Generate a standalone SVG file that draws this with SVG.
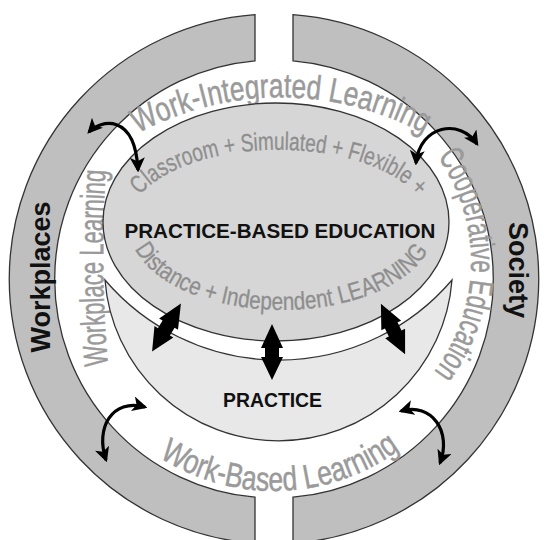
<svg xmlns="http://www.w3.org/2000/svg" width="544" height="540" viewBox="0 0 544 540">
  <defs>
    <style>
      .band { fill: #bfbfbf; stroke: #333; stroke-width: 1.3; }
      .pbe { fill: #d6d6d6; stroke: #333; stroke-width: 1.3; }
      .prac { fill: #e8e8e8; stroke: #333; stroke-width: 1.3; }
      .ring { font-family: "Liberation Sans Narrow", "Liberation Sans", Arial, sans-serif; fill: #9a9a9a; stroke: #9a9a9a; stroke-width: 0.5; font-size: 34px; }
      .inner { font-family: "Liberation Sans Narrow", "Liberation Sans", Arial, sans-serif; fill: #8e8e8e; stroke: #8e8e8e; stroke-width: 0.3; font-size: 25px; }
      .title { font-family: "Liberation Sans", Arial, sans-serif; font-weight: bold; fill: #111; }
      .curve { fill: none; stroke: #000; stroke-width: 3.2; marker-start: url(#head); marker-end: url(#head); }
      .dbl { fill: #000; }
    </style>
    <marker id="head" viewBox="0 0 12 12" refX="10" refY="6" markerWidth="15" markerHeight="15" markerUnits="userSpaceOnUse" orient="auto-start-reverse">
      <path d="M0,0 L12,6 L0,12 L3,6 Z" fill="#000"/>
    </marker>
    <path id="dblArrow" d="M0,-28 L11,-4 L7,-4 L7,5 L11,5 L0,28 L-11,5 L-7,5 L-7,-4 L-11,-4 Z"/>
    <path id="p-top" d="M138,133.5 A300,300 0 0 1 428,136"/>
    <path id="p-right" d="M380.5,105.2 A181,181 0 0 1 380.5,418.8"/>
    <path id="p-bottom" d="M74.8,351.5 A212,212 0 0 0 473.2,351.5"/>
    <path id="p-left" d="M110,385 Q98,275 107,150"/>
    <path id="p-in-top" d="M140,195 A150,74 0 0 1 418,197"/>
    <path id="p-in-bottom" d="M135,248.8 A152,82 0 0 0 432,241"/>
  </defs>

  <g id="workplaces-band">
    <path class="band" d="M255,14.7 A265,265 0 0 0 255,543.3 L255,497.2 A219,219 0 0 1 255,60.8 Z"/>
    <text class="title" font-size="27" text-anchor="middle" transform="translate(50,277) rotate(-90)">Workplaces</text>
  </g>

  <g id="society-band">
    <path class="band" d="M293,14.7 A265,265 0 0 1 293,543.3 L293,497.2 A219,219 0 0 0 293,60.8 Z"/>
    <text class="title" font-size="27" text-anchor="middle" transform="translate(509,270) rotate(90)">Society</text>
  </g>

  <g id="ring-labels">
    <text class="ring"><textPath href="#p-top" textLength="298" lengthAdjust="spacingAndGlyphs">Work-Integrated Learning</textPath></text>
    <text class="ring"><textPath href="#p-right" startOffset="50.8%" text-anchor="middle" textLength="230" lengthAdjust="spacingAndGlyphs">Cooperative Education</textPath></text>
    <text class="ring"><textPath href="#p-bottom" startOffset="51.3%" text-anchor="middle" textLength="256" lengthAdjust="spacingAndGlyphs">Work-Based Learning</textPath></text>
    <text class="ring"><textPath href="#p-left" startOffset="50%" text-anchor="middle" textLength="195" lengthAdjust="spacingAndGlyphs">Workplace Learning</textPath></text>
  </g>

  <g id="practice-based-education">
    <ellipse class="pbe" cx="276" cy="222" rx="173" ry="119"/>
    <text class="inner"><textPath href="#p-in-top" textLength="300" lengthAdjust="spacingAndGlyphs">Classroom + Simulated + Flexible +</textPath></text>
    <text class="inner"><textPath href="#p-in-bottom" textLength="330" lengthAdjust="spacingAndGlyphs">Distance + Independent LEARNING</textPath></text>
    <text class="title" font-size="20" x="280" y="238" text-anchor="middle" textLength="311" lengthAdjust="spacingAndGlyphs">PRACTICE-BASED EDUCATION</text>
  </g>

  <g id="practice">
    <path class="prac" d="M105,280 A228,228 0 0 0 452,280 A174,174 0 0 1 105,280 Z"/>
    <text class="title" font-size="20" x="272.5" y="407" text-anchor="middle" textLength="99" lengthAdjust="spacingAndGlyphs">PRACTICE</text>
  </g>

  <g id="connectors">
    <use href="#dblArrow" class="dbl" transform="translate(272,352)"/>
    <use href="#dblArrow" class="dbl" transform="translate(166.5,327.5) rotate(31)"/>
    <use href="#dblArrow" class="dbl" transform="translate(393,329) rotate(-25.6)"/>
    <path class="curve" d="M89,132 C100,120 135,112 138,170"/>
    <path class="curve" d="M416,163 C420,125 460,118 477,144"/>
    <path class="curve" d="M145,407 C112,398 95,428 106,460"/>
    <path class="curve" d="M401,411 C432,402 452,432 440,463"/>
  </g>
</svg>
